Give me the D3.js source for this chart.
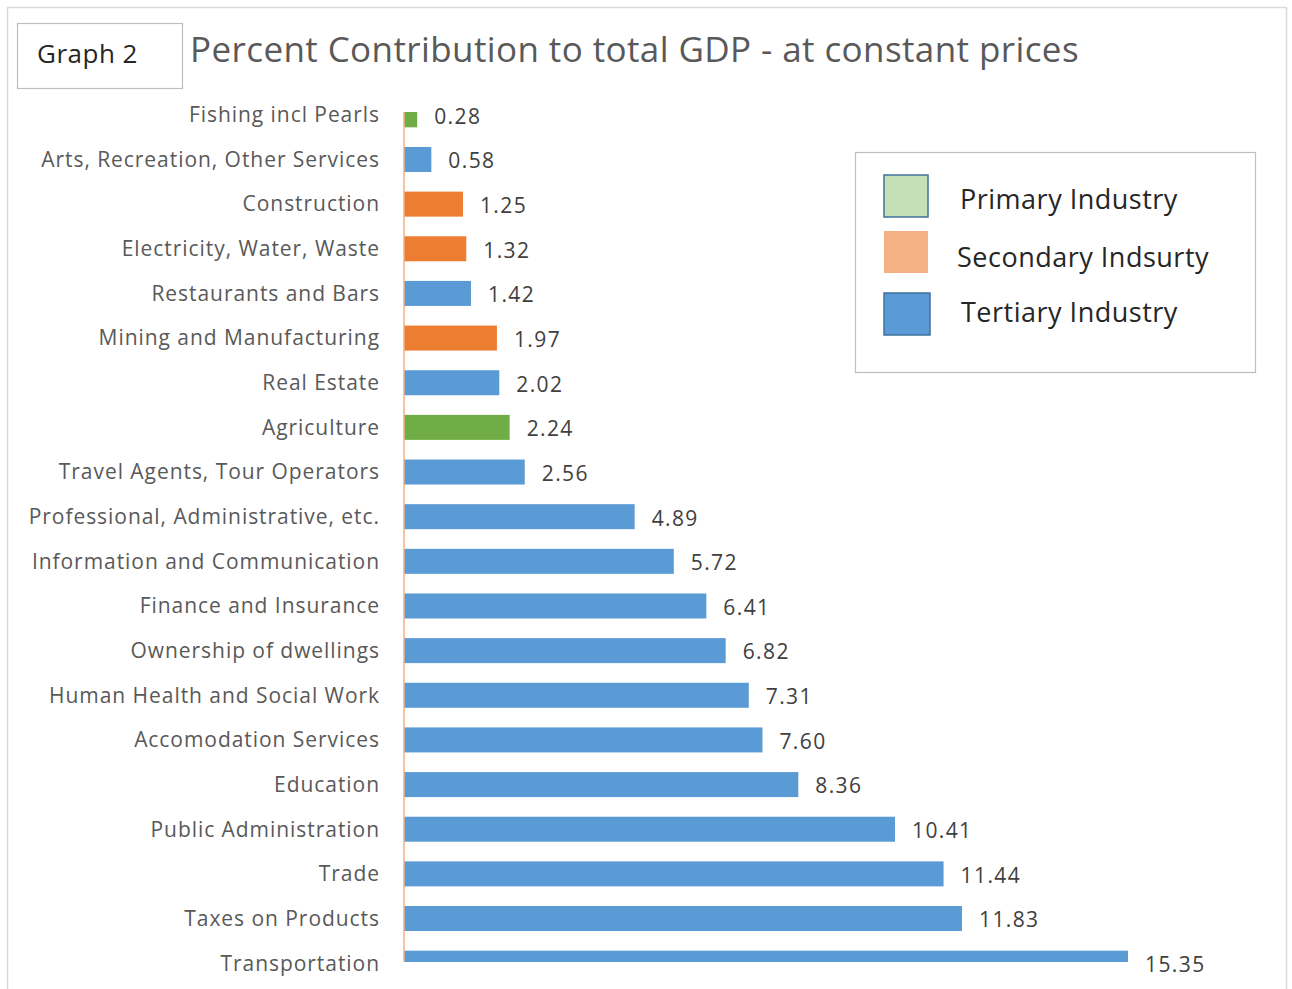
<!DOCTYPE html>
<html><head><meta charset="utf-8">
<script src="https://cdn.jsdelivr.net/npm/d3@7"></script>
<style>body{margin:0;background:#fff;} text{font-family:"Open Sans",Lato,sans-serif;}</style>
</head><body>
<svg id="chart" width="1292" height="989"></svg>
<script>
const categories = ["Fishing incl Pearls","Arts, Recreation, Other Services","Construction","Electricity, Water, Waste","Restaurants and Bars","Mining and Manufacturing","Real Estate","Agriculture","Travel Agents, Tour Operators","Professional, Administrative, etc.","Information and Communication","Finance and Insurance","Ownership of dwellings","Human Health and Social Work","Accomodation Services","Education","Public Administration","Trade","Taxes on Products","Transportation"];
const values = [0.28,0.58,1.25,1.32,1.42,1.97,2.02,2.24,2.56,4.89,5.72,6.41,6.82,7.31,7.60,8.36,10.41,11.44,11.83,15.35];
const industry = ["Primary","Tertiary","Secondary","Secondary","Tertiary","Secondary","Tertiary","Primary","Tertiary","Tertiary","Tertiary","Tertiary","Tertiary","Tertiary","Tertiary","Tertiary","Tertiary","Tertiary","Tertiary","Tertiary"];
const legendLabels = ["Primary Industry","Secondary Indsurty","Tertiary Industry"];
const legendKeys = ["Primary","Secondary","Tertiary"];

const svg = d3.select("#chart");
svg.append("rect").attr("x",7.5).attr("y",7.5).attr("width",1279).attr("height",1000).attr("fill","#fff").attr("stroke","#d9d9d9").attr("stroke-width",1.5);

svg.append("rect").attr("x",17.5).attr("y",23.5).attr("width",165).attr("height",65).attr("fill","#fff").attr("stroke","#bfbfbf").attr("stroke-width",1.2);
svg.append("text").attr("x",37).attr("y",63).attr("font-size",26).attr("letter-spacing",0.5).attr("fill","#262626").text("Graph 2");
svg.append("text").attr("x",190).attr("y",62).attr("font-size",35).attr("letter-spacing",0.4).attr("fill","#595959").text("Percent Contribution to total GDP - at constant prices");

const barColor = {Primary:"#70ad47",Secondary:"#ed7d31",Tertiary:"#5b9bd5"};
const x = d3.scaleLinear().domain([0,15.35]).range([404,1128]);
const y = d3.scaleBand().domain(categories).range([92.5,985.5]).paddingInner(0.44).paddingOuter(0.22);

const clipTop = 112, clipBot = 962;
svg.append("clipPath").attr("id","plotclip").append("rect").attr("x",0).attr("y",clipTop).attr("width",1292).attr("height",clipBot-clipTop);

const g = svg.append("g");
g.append("g").attr("clip-path","url(#plotclip)").selectAll("rect.bar").data(values).join("rect")
  .attr("class","bar")
  .attr("x",x(0)).attr("y",(d,i)=>y(categories[i]))
  .attr("width",d=>x(d)-x(0)).attr("height",y.bandwidth())
  .attr("fill",(d,i)=>barColor[industry[i]]);

const yc = c => y(c)+y.bandwidth()/2;
g.selectAll("text.cat").data(categories).join("text").attr("class","cat")
  .attr("x",380).attr("y",d=>yc(d)).attr("dy","0.35em").attr("text-anchor","end")
  .attr("font-size",21).attr("letter-spacing",0.95).attr("fill","#595959").text(d=>d);

g.selectAll("text.val").data(values).join("text").attr("class","val")
  .attr("x",d=>x(d)+17).attr("y",(d,i)=>yc(categories[i])+1.5).attr("dy","0.35em")
  .attr("font-size",21).attr("letter-spacing",1.4).attr("fill","#404040").text(d=>d3.format(".2f")(d));

g.append("line").attr("x1",x(0)).attr("x2",x(0)).attr("y1",clipTop).attr("y2",clipBot).attr("stroke","#f4b183").attr("stroke-width",1.5);

const lg = svg.append("g");
lg.append("rect").attr("x",855.5).attr("y",152.5).attr("width",400).attr("height",220).attr("fill","#fff").attr("stroke","#bfbfbf").attr("stroke-width",1.2);
const legFill = {Primary:"#c5e0b4",Secondary:"#f4b183",Tertiary:"#5b9bd5"};
const legStroke = {Primary:"#41719c",Secondary:"none",Tertiary:"#41719c"};
const legTextY = [200,258,313];
lg.selectAll("rect.sw").data(legendKeys).join("rect").attr("class","sw")
  .attr("x",884).attr("y",(d,i)=>[175,231,293][i]).attr("width",(d,i)=>i===2?46:44).attr("height",42)
  .attr("fill",d=>legFill[d]).attr("stroke",d=>legStroke[d]).attr("stroke-width",1.5);
lg.selectAll("text.lt").data(legendLabels).join("text").attr("class","lt")
  .attr("x",(d,i)=>[960,957,961][i]).attr("y",(d,i)=>legTextY[i]).attr("dy","0.35em")
  .attr("font-size",27).attr("letter-spacing",0.5).attr("fill","#262626").text(d=>d);
</script>
</body></html>
